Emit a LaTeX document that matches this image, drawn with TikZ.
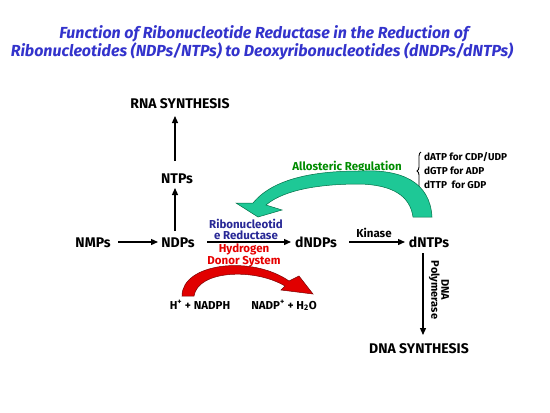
\documentclass[tikz,border=0pt]{standalone}
\usepackage{fontspec}
\setmainfont{Fira Sans}
\usetikzlibrary{arrows.meta,decorations.pathreplacing}
\definecolor{titleblue}{RGB}{51,51,204}
\definecolor{enzblue}{RGB}{40,40,150}
\definecolor{redtxt}{RGB}{230,0,0}
\definecolor{greentxt}{RGB}{0,140,0}
\definecolor{tealfill}{RGB}{30,200,150}
\definecolor{tealdark}{RGB}{0,110,70}
\definecolor{redfill}{RGB}{225,0,0}
\definecolor{reddark}{RGB}{120,0,0}
\tikzset{
  lbl/.style={font=\bfseries\fontsize{14}{16}\selectfont, inner sep=0pt, anchor=base},
  small/.style={font=\bfseries\fontsize{11.5}{10.5}\selectfont, inner sep=0pt, align=center, anchor=base},
  reg/.style={font=\bfseries\fontsize{10}{11}\selectfont, inner sep=0pt, anchor=base west},
  ttl/.style={font=\bfseries\itshape\fontsize{16}{18}\selectfont, text=titleblue, inner sep=0pt, anchor=base},
  arr/.style={-{Triangle[length=7pt,width=6pt]}, line width=1.3pt}
}
\begin{document}
\begin{tikzpicture}[x=1pt,y=-1pt]
\useasboundingbox (0,0) rectangle (550,413);
\fill[white] (0,0) rectangle (550,413);
% title
\node[ttl] (t1) at (264,38) {Function of Ribonucleotide Reductase in the Reduction of};
\node[ttl] (t2) at (262,56) {Ribonucleotides (NDPs/NTPs) to Deoxyribonucleotides (dNDPs/dNTPs)};
% main nodes
\node[lbl] (rna) at (180,108) {RNA SYNTHESIS};
\node[lbl] (ntps) at (177,183) {NTPs};
\node[lbl] (nmps) at (93,247) {NMPs};
\node[lbl] (ndps) at (178,247) {NDPs};
\node[lbl] (dndps) at (316,247) {dNDPs};
\node[lbl] (dntps) at (429,247) {dNTPs};
\node[lbl] (dna) at (419,353) {DNA SYNTHESIS};
\node[lbl,font=\bfseries\fontsize{11.5}{12}\selectfont] (hnadph) at (200,309) {H\textsuperscript{+} + NADPH};
\node[lbl,font=\bfseries\fontsize{11.5}{12}\selectfont] (nadp) at (284,309) {NADP\textsuperscript{+} + H\textsubscript{2}O};
% connector end points
\coordinate (a1s) at (175,161); \coordinate (a1e) at (175,116);
\coordinate (a2s) at (175,231); \coordinate (a2e) at (175,188);
\coordinate (a3s) at (118,242); \coordinate (a3e) at (158,242);
\coordinate (a4s) at (207,242); \coordinate (a4e) at (291,242);
\coordinate (a5s) at (349,242); \coordinate (a5e) at (405,242);
\coordinate (a6s) at (423,253); \coordinate (a6e) at (423,335);
% arrows
\draw[arr] (a1s) -- (a1e);
\draw[arr] (a2s) -- (a2e);
\draw[arr] (a3s) -- (a3e);
\draw[arr] (a4s) -- (a4e);
\draw[arr] (a5s) -- (a5e);
\draw[arr] (a6s) -- (a6e);
% arrow labels
\node[small,text=enzblue] (rr) at (246,239) {Ribonucleotid\\e Reductase};
\node[small,text=redtxt] (hds) at (244,264) {Hydrogen\\Donor System};
\node[small] (kin) at (374,237) {Kinase};
\node[rotate=-90,font=\bfseries\fontsize{11}{10}\selectfont,inner sep=0pt,align=center] (pol) at (439,290) {DNA\\Polymerase};
\node[small,text=greentxt] (allo) at (347,170) {Allosteric Regulation};
% regulation list
\node[reg] (r1) at (424,160) {dATP for CDP/UDP};
\node[reg] (r2) at (424,174) {dGTP for ADP};
\node[reg] (r3) at (424,188) {dTTP\ \ for GDP};
\coordinate (b1) at (421,152); \coordinate (b2) at (421,190);
\draw[line width=0.9pt, decorate, decoration={brace, amplitude=4pt, mirror}] (b1) -- (b2);
% green curved arrow
\filldraw[fill=tealfill, draw=tealdark, line width=0.5pt]
  (432,217) .. controls (430,182) and (402,169) .. (360,171)
  .. controls (322,171) and (275,176) .. (253,203)
  -- (236,203) -- (258,217) -- (282,210) -- (266,205)
  .. controls (285,189) and (322,184) .. (360,184)
  .. controls (393,185) and (410,196) .. (413,217) -- cycle;
% red curved arrow
\filldraw[fill=redfill, draw=reddark, line width=0.5pt]
  (182,296) .. controls (182,263) and (252,255) .. (289,281)
  -- (299,276) -- (313,294) -- (281,290) -- (285,286)
  .. controls (255,268) and (198,270) .. (194,296) -- cycle;
\end{tikzpicture}
\end{document}
